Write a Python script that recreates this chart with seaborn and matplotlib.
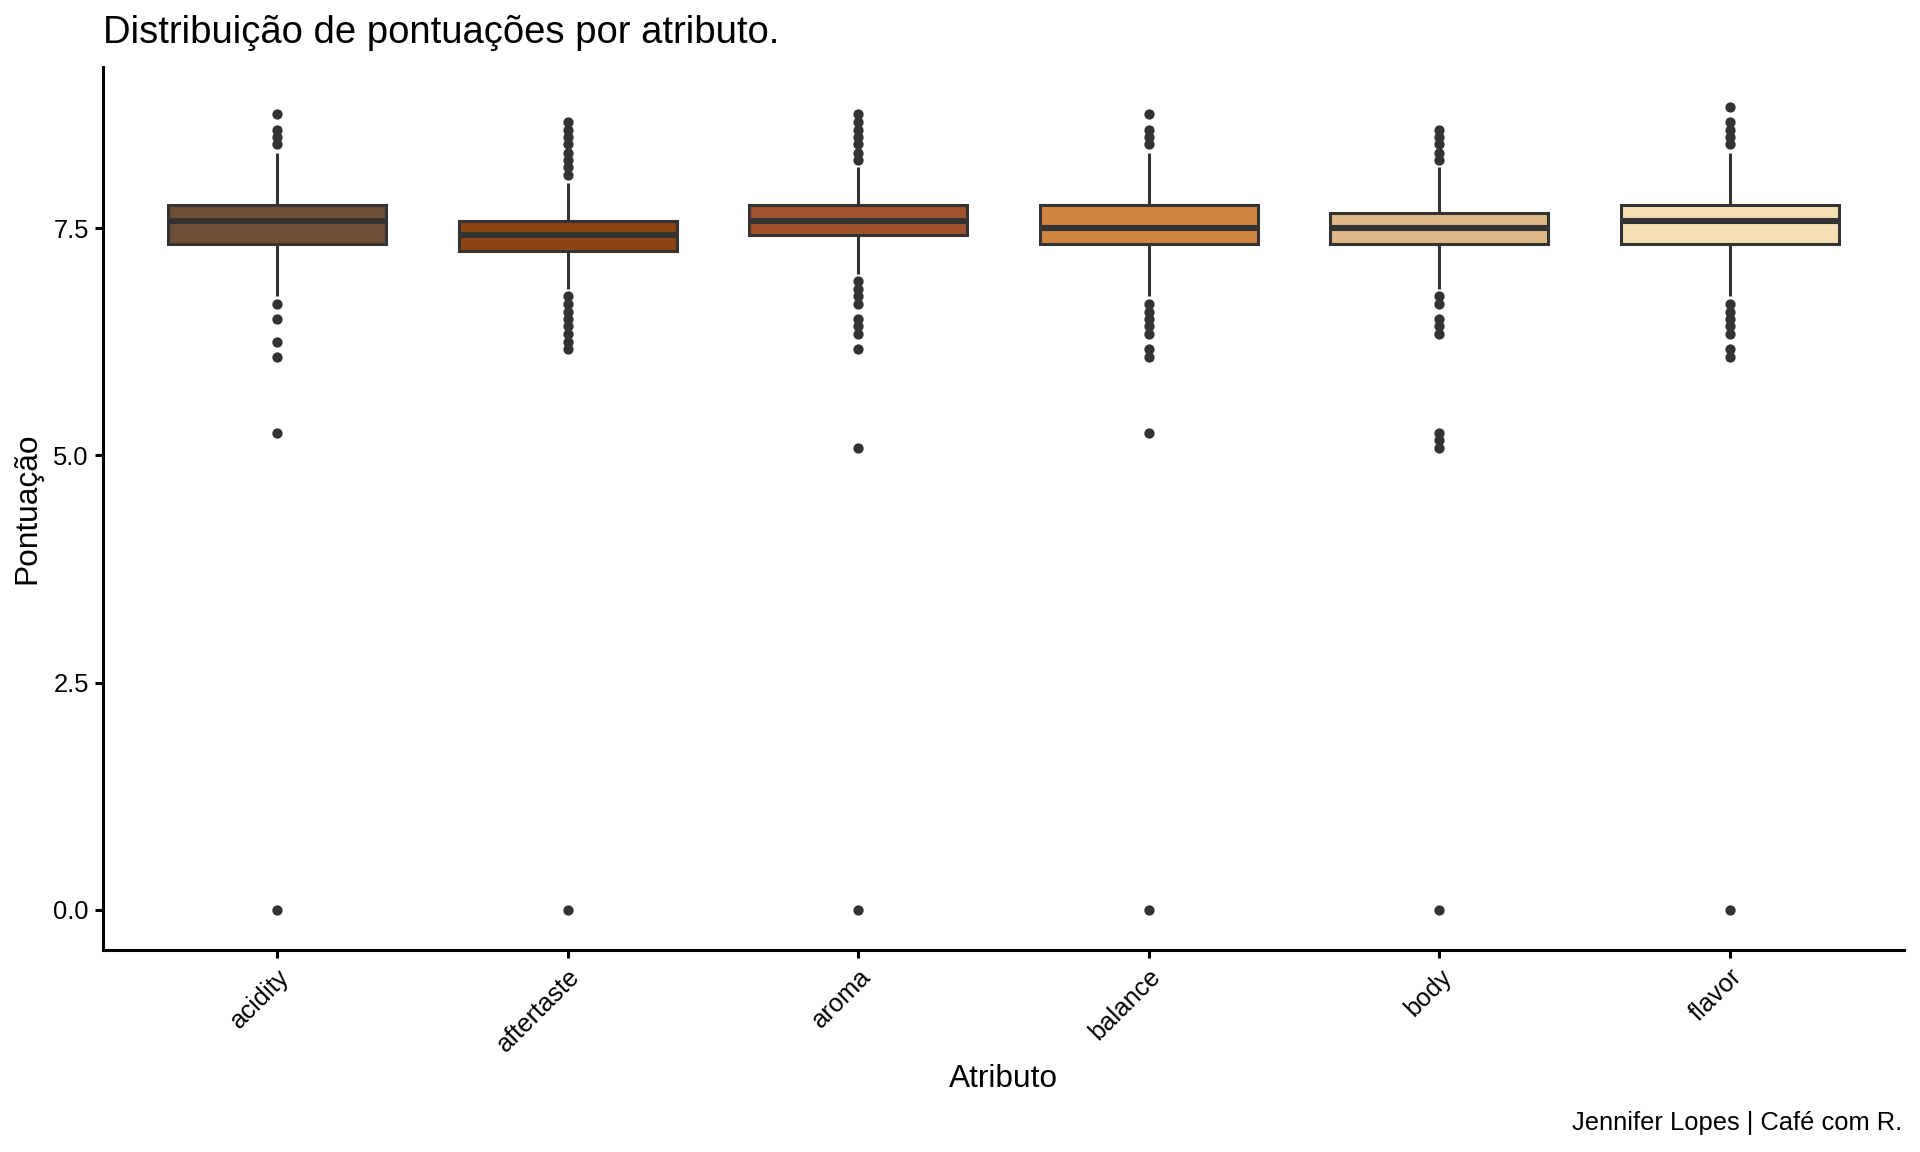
import numpy as np
import pandas as pd
import seaborn as sns
import matplotlib.pyplot as plt

# ---- data ----
attributes = ["acidity", "aftertaste", "aroma", "balance", "body", "flavor"]
colors = ["#6F4E37", "#8B4513", "#A0522D", "#CD853F", "#DEB887", "#F5DEB3"]

q1 = [7.33, 7.25, 7.42, 7.33, 7.33, 7.33]
median = [7.58, 7.42, 7.58, 7.50, 7.50, 7.58]
q3 = [7.75, 7.58, 7.75, 7.75, 7.67, 7.75]
whisker_low = [6.75, 6.83, 7.00, 6.75, 6.83, 6.75]
whisker_high = [8.33, 8.00, 8.17, 8.33, 8.17, 8.33]

outliers_acidity = [0.0, 5.25, 6.08, 6.25, 6.50, 6.67, 8.42, 8.50, 8.58, 8.75]
outliers_aftertaste = [0.0, 6.17, 6.25, 6.33, 6.42, 6.50, 6.58, 6.67, 6.75,
                       8.08, 8.17, 8.25, 8.33, 8.42, 8.50, 8.58, 8.67]
outliers_aroma = [0.0, 5.08, 6.17, 6.33, 6.42, 6.50, 6.67, 6.75, 6.83, 6.92,
                  8.25, 8.33, 8.42, 8.50, 8.58, 8.67, 8.75]
outliers_balance = [0.0, 5.25, 6.08, 6.17, 6.33, 6.42, 6.50, 6.58, 6.67,
                    8.42, 8.50, 8.58, 8.75]
outliers_body = [0.0, 5.08, 5.17, 5.25, 6.33, 6.42, 6.50, 6.67, 6.75,
                 8.25, 8.33, 8.42, 8.50, 8.58]
outliers_flavor = [0.0, 6.08, 6.17, 6.33, 6.42, 6.50, 6.58, 6.67,
                   8.42, 8.50, 8.58, 8.67, 8.83]
outliers = [outliers_acidity, outliers_aftertaste, outliers_aroma,
            outliers_balance, outliers_body, outliers_flavor]

y_ticks = [0.0, 2.5, 5.0, 7.5]
y_tick_labels = ["0.0", "2.5", "5.0", "7.5"]

title = "Distribuição de pontuações por atributo."
x_title = "Atributo"
y_title = "Pontuação"
caption = "Jennifer Lopes | Café com R."

# ---- build a sample per attribute that reproduces the read box statistics ----
BLOCK = 60
rows = []
for i, a in enumerate(attributes):
    vals = ([whisker_low[i], whisker_high[i]]
            + [q1[i]] * BLOCK + [median[i]] * BLOCK + [q3[i]] * BLOCK
            + list(outliers[i]))
    rows += [(a, v) for v in vals]
df = pd.DataFrame(rows, columns=["atributo", "pontuacao"])

# ---- styling ----
sns.set_style("ticks")
plt.rcParams['font.family'] = ['Liberation Sans', 'DejaVu Sans']

W, H = 1920, 1152
fig = plt.figure(figsize=(9.6, 5.76), dpi=200)
left, right, top, bottom = 103, 1904, 67, 950
ax = fig.add_axes([left / W, 1 - bottom / H, (right - left) / W, (bottom - top) / H])

LW = 1.1
ink = "#333333"
sns.boxplot(data=df, x="atributo", y="pontuacao", hue="atributo",
            order=attributes, hue_order=attributes, palette=colors,
            saturation=1, width=0.75, linecolor=ink, linewidth=LW,
            showcaps=False, fliersize=3.7,
            flierprops=dict(marker='o', markerfacecolor=ink,
                            markeredgecolor=ink, markeredgewidth=0),
            medianprops=dict(linewidth=2.2, color=ink),
            legend=False, ax=ax)

ymax = 8.83
ax.set_xlim(-0.6, len(attributes) - 1 + 0.6)
ax.set_ylim(-0.05 * ymax, ymax * 1.05)
ax.set_yticks(y_ticks)
ax.set_yticklabels(y_tick_labels)
ax.set_xlabel("")
ax.set_ylabel("")

for s in ["top", "right"]:
    ax.spines[s].set_visible(False)
for s in ["left", "bottom"]:
    ax.spines[s].set_color("black")
    ax.spines[s].set_linewidth(LW)

ax.tick_params(axis="both", length=2.85, width=LW, color="black",
               labelcolor="black", labelsize=9.2, pad=2.3)
plt.setp(ax.get_xticklabels(), rotation=45, ha="right", va="top",
         rotation_mode="anchor")

fig.text(left / W, 1 - 43 / H, title, fontsize=13.75, ha="left",
         va="baseline", color="black")
fig.text((left + right) / 2 / W, 1 - 1079 / H, x_title, fontsize=11.4,
         ha="center", va="center", color="black")
fig.text(27 / W, 1 - (top + bottom) / 2 / H, y_title, fontsize=11.4,
         rotation=90, ha="center", va="center", color="black")
fig.text(1902 / W, 1 - 1123 / H, caption, fontsize=9.2, ha="right",
         va="center", color="black")

fig.savefig("out.png", dpi=200, facecolor="white")
